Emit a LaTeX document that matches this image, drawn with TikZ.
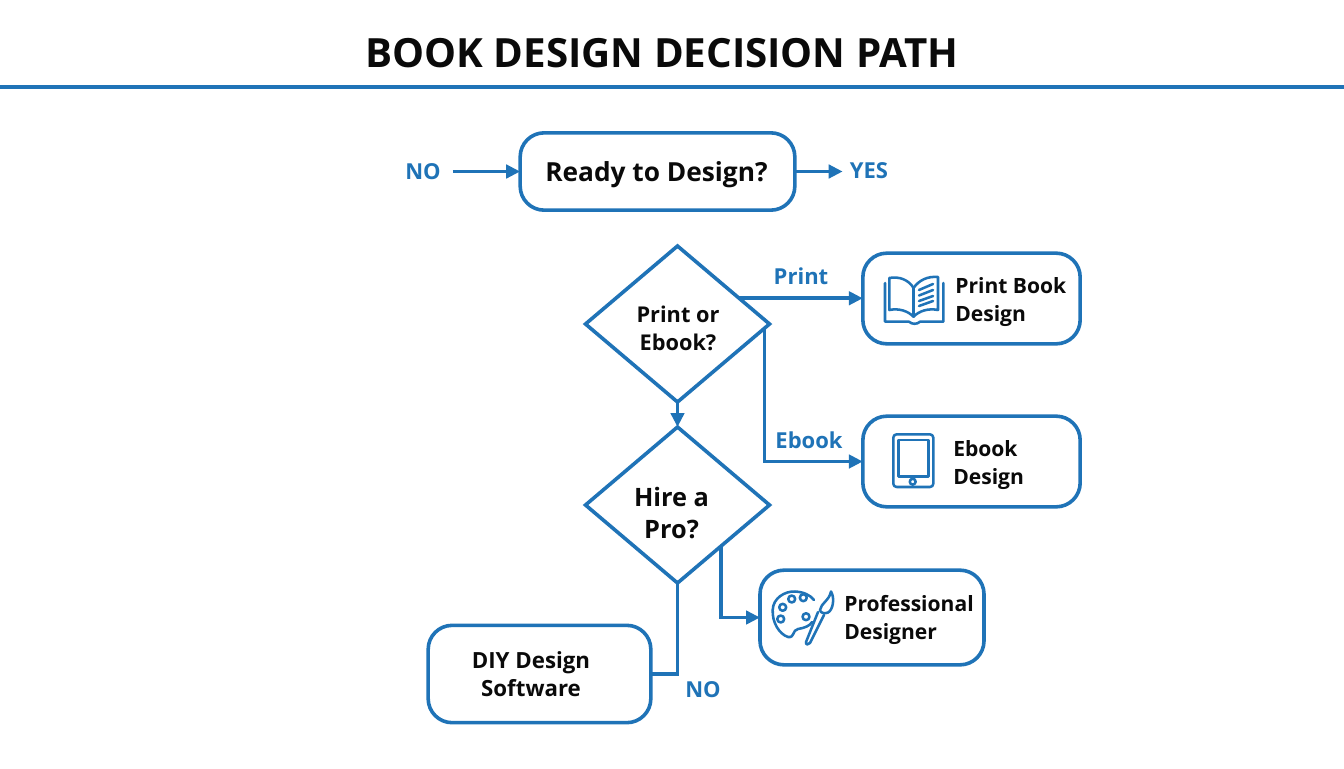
\documentclass[tikz,border=0pt]{standalone}
\usepackage{fontspec}
\setmainfont{Open Sans}
\usetikzlibrary{shapes.geometric,arrows.meta,calc}
\definecolor{flow}{HTML}{1F73B7}
\definecolor{inkc}{HTML}{0A0A0A}
\tikzset{
  x=0.75pt,y=-0.75pt,
  conn/.style={draw=flow,line width=2.7pt,-{Triangle[length=10.5pt,width=10pt]}},
  plainconn/.style={draw=flow,line width=2.7pt},
  boxnode/.style={draw=flow,line width=2.7pt,rounded corners=18pt,fill=white,inner sep=0pt,outer sep=0pt},
  dnode/.style={diamond,draw=flow,line width=2.7pt,fill=white,inner sep=0pt,outer sep=0pt,minimum width=138pt,minimum height=117pt},
  boxtext/.style={text=inkc,align=left,inner sep=0pt,font=\bfseries\fontsize{15.8pt}{21pt}\selectfont},
  flowlabel/.style={text=flow,inner sep=0pt,font=\bfseries\fontsize{16.5pt}{20pt}\selectfont},
  icon/.style={draw=flow,line width=1.9pt,line join=round,line cap=round,fill=none},
}
\begin{document}
\begin{tikzpicture}
\useasboundingbox (0,0) rectangle (1344,768);
\fill[white] (0,0) rectangle (1344,768);
\node[text=inkc,inner sep=0pt,font=\bfseries\fontsize{30.2pt}{34pt}\selectfont] (title) at (662,53) {BOOK DESIGN DECISION PATH};
\coordinate (ruleL) at (0,87);
\coordinate (ruleR) at (1344,87);
\draw[flow,line width=3.2pt] (ruleL) -- (ruleR);

\node[boxnode,minimum width=206pt,minimum height=58pt] (ready) at (657.5,171.5) {};
\node[text=inkc,inner sep=0pt,font=\bfseries\fontsize{19.7pt}{24pt}\selectfont] (readyt) at (656.5,175) {Ready to Design?};
\node[flowlabel] (no1) at (423,172) {NO};
\node[flowlabel] (yes) at (869,171) {YES};
\coordinate (no1s) at ($(ready.west -| no1.east)+(12,0)$);
\coordinate (yese) at ($(ready.east -| yes.west)+(-7,0)$);
\draw[conn] (no1s) -- (ready.west);
\draw[conn] (ready.east) -- (yese);

\node[dnode] (d1) at (677.5,324) {};
\node[dnode] (d2) at (677.5,505) {};
\node[text=inkc,align=center,inner sep=0pt,font=\bfseries\fontsize{16.3pt}{21pt}\selectfont] (d1t) at (678,328) {Print or\\Ebook?};
\node[text=inkc,align=center,inner sep=0pt,font=\bfseries\fontsize{19pt}{23.5pt}\selectfont] (d2t) at (671.5,513) {Hire a\\Pro?};

\node[boxnode,minimum width=163pt,minimum height=68pt] (print) at (971.5,298.5) {};
\node[boxnode,minimum width=163pt,minimum height=68pt] (ebook) at (971.5,461.5) {};
\node[boxnode,minimum width=168pt,minimum height=71pt] (pro) at (872,617.5) {};
\node[boxnode,minimum width=167pt,minimum height=73pt] (diy) at (539.5,674) {};

\node[boxtext,anchor=west] (printt) at (955,302) {Print Book\\Design};
\node[boxtext,anchor=west] (ebookt) at (953,465) {Ebook\\Design};
\node[boxtext,anchor=west] (prot) at (844,620) {Professional\\Designer};
\node[boxtext,align=center,font=\bfseries\fontsize{16.7pt}{21pt}\selectfont] (diyt) at (531,674.5) {DIY Design\\Software};

\coordinate (d1a) at ($(d1.north)!0.67!(d1.east)$);
\coordinate (d1b) at ($(d1.east)!0.055!(d1.south)$);
\coordinate (d2a) at ($(d2.east)!0.53!(d2.south)$);
\draw[conn] (d1a) -- (d1a -| print.west);
\draw[conn] (d1b) |- (ebook.west);
\draw[conn] (d1.south) -- (d2.north);
\draw[conn] (d2a) |- (pro.west);
\draw[plainconn] (d2.south) |- (diy.east);

\node[flowlabel] (lprint) at (801,276) {Print};
\node[flowlabel] (lebook) at (809,440) {Ebook};
\node[flowlabel] (lno) at (703,690) {NO};

% book icon
\draw[icon] (885,283) -- (885,321.7) -- (909,321.7) .. controls (912,324.5) and (917,324.5) .. (920,321.7) -- (943.3,321.7) -- (943.3,283);
\draw[icon] (889.3,278) .. controls (899,276) and (909,280) .. (913.5,288) -- (913.5,316.7) .. controls (908,311) and (899,308) .. (889.3,310) -- cycle;
\draw[icon] (913.5,288) .. controls (919,280) and (928,276) .. (938,277) -- (938,310) .. controls (928,308) and (919,311) .. (913.5,316.7);
\draw[icon] (919,290) -- (933,284);
\draw[icon] (919,295.5) -- (933,290);
\draw[icon] (919,301) -- (933,296);
\draw[icon] (919,306) -- (933,301);
% tablet icon
\draw[icon,rounded corners=2.5pt] (893.3,434.3) rectangle (933.3,487);
\draw[icon] (898.3,440) rectangle (928.3,476.7);
\draw[icon] (912.7,481.7) circle (2.2pt);
% palette icon
\draw[icon] (772.7,610) .. controls (773,598) and (785,591) .. (795,591.5) .. controls (804,592) and (810,595) .. (814,600);
\draw[icon] (772.7,610) .. controls (772,622) and (779,634) .. (788,637) .. controls (795,638) and (792,630) .. (798,629) .. controls (804,628) and (810,626) .. (812,622);
\draw[icon] (782.7,607.3) circle (2.6pt);
\draw[icon] (791.7,599) circle (2.6pt);
\draw[icon] (803.3,597.7) circle (2.6pt);
\draw[icon] (780.7,619) circle (2.6pt);
\draw[icon] (806,616.7) circle (2.6pt);
\draw[icon] (818,612) -- (806,642) .. controls (805,645) and (809,645) .. (810,643) -- (824,615);
\draw[icon] (820,610) .. controls (821,603) and (829,601) .. (831,591.5) .. controls (835,598) and (833,610) .. (828,612.5) .. controls (825,614) and (820,613) .. (820,610) -- cycle;
\end{tikzpicture}
\end{document}
